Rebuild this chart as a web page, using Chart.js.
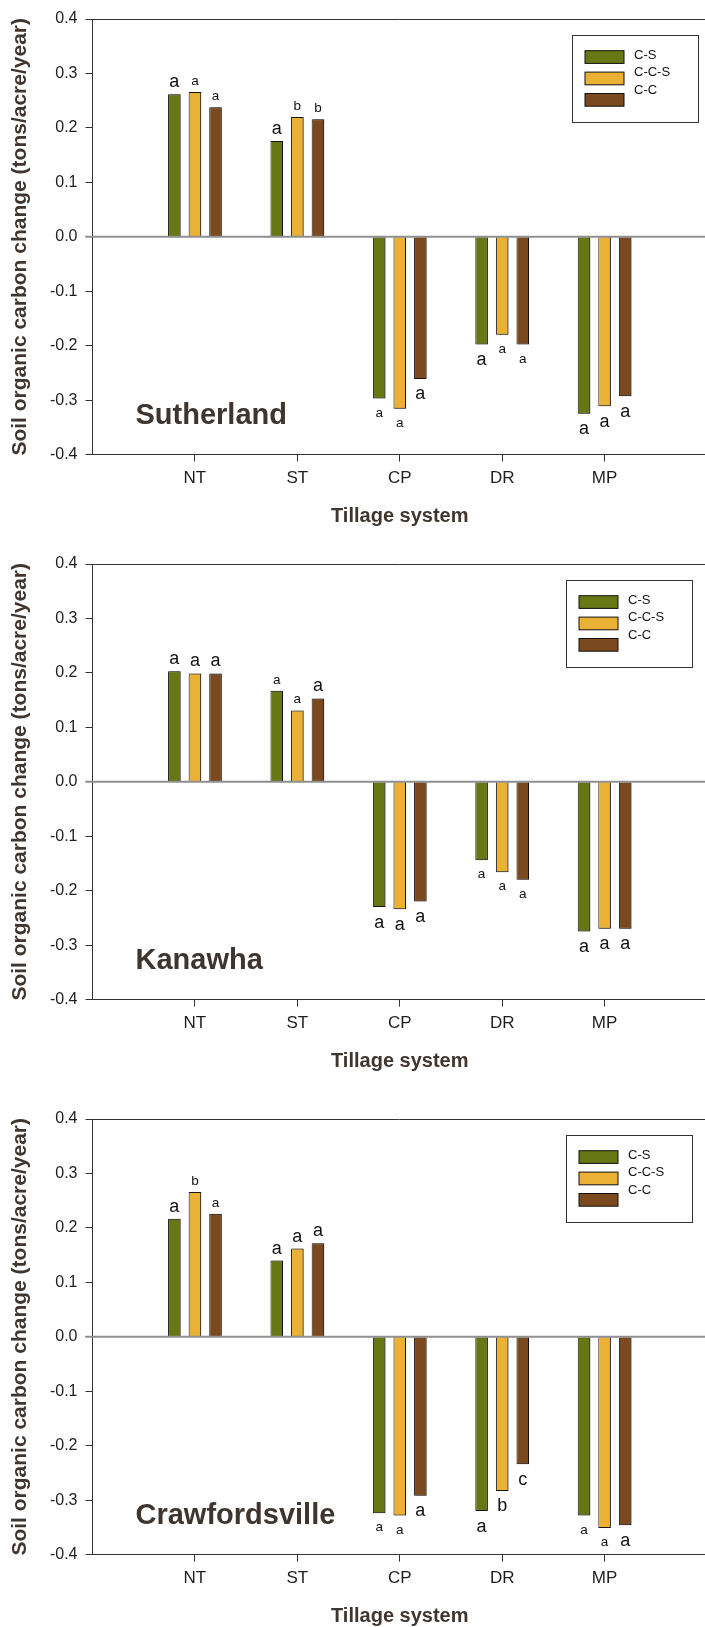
<!DOCTYPE html>
<html>
<head>
<meta charset="utf-8">
<title>Soil organic carbon change by tillage system</title>
<script src="https://cdn.jsdelivr.net/npm/chart.js@4"></script>
<style>
  html, body { margin: 0; padding: 0; background: #fff; overflow: hidden; }
  .panel { position: absolute; left: 0; }
</style>
</head>
<body>
<canvas id="sutherland" class="panel" width="714" height="532" style="top:0px"></canvas>
<canvas id="kanawha" class="panel" width="714" height="532" style="top:545px"></canvas>
<canvas id="crawfordsville" class="panel" width="714" height="532" style="top:1100px"></canvas>
<script>
// categories (empty slots at both ends keep the axis running past NT and MP)
var tillage = ['', 'NT', 'ST', 'CP', 'DR', 'MP', ''];
var rotations = ['C-S', 'C-C-S', 'C-C'];
var yTickValues = [-0.4, -0.3, -0.2, -0.1, 0, 0.1, 0.2, 0.3, 0.4];

// Sutherland
var sutherlandCS = [0.262, 0.176, -0.297, -0.198, -0.325];
var sutherlandCCS = [0.266, 0.220, -0.316, -0.180, -0.311];
var sutherlandCC = [0.238, 0.216, -0.261, -0.198, -0.293];
var sutherlandLettersCS = ['a', 'a', 'a', 'a', 'a'];
var sutherlandLettersCCS = ['a', 'b', 'a', 'a', 'a'];
var sutherlandLettersCC = ['a', 'b', 'a', 'a', 'a'];

// Kanawha
var kanawhaCS = [0.203, 0.167, -0.230, -0.144, -0.275];
var kanawhaCCS = [0.199, 0.131, -0.234, -0.166, -0.270];
var kanawhaCC = [0.199, 0.153, -0.220, -0.180, -0.270];
var kanawhaLettersCS = ['a', 'a', 'a', 'a', 'a'];
var kanawhaLettersCCS = ['a', 'a', 'a', 'a', 'a'];
var kanawhaLettersCC = ['a', 'a', 'a', 'a', 'a'];

// Crawfordsville
var crawfordsvilleCS = [0.217, 0.140, -0.324, -0.320, -0.328];
var crawfordsvilleCCS = [0.266, 0.162, -0.328, -0.283, -0.351];
var crawfordsvilleCC = [0.226, 0.172, -0.292, -0.234, -0.346];
var crawfordsvilleLettersCS = ['a', 'a', 'a', 'a', 'a'];
var crawfordsvilleLettersCCS = ['b', 'a', 'a', 'b', 'a'];
var crawfordsvilleLettersCC = ['a', 'a', 'a', 'c', 'a'];

// letter sizes as in the original figure (L = large, S = small)
var sutherlandLetterSize = [['L', 'L', 'S', 'L', 'L'], ['S', 'S', 'S', 'S', 'L'], ['S', 'S', 'L', 'S', 'L']];
var kanawhaLetterSize = [['L', 'S', 'L', 'S', 'L'], ['L', 'S', 'L', 'S', 'L'], ['L', 'L', 'L', 'S', 'L']];
var crawfordsvilleLetterSize = [['L', 'L', 'S', 'L', 'S'], ['S', 'L', 'S', 'L', 'S'], ['S', 'L', 'L', 'L', 'L']];

var barColors = ['#667713', '#ebb134', '#7a4a1e'];
var textColor = '#40352f';

Chart.defaults.font.family = '"Liberation Sans", Arial, sans-serif';
Chart.defaults.color = '#1e1e1e';

function padEnds(values) {
    return [null].concat(values, [null]);
}

var decorations = {
    id: 'decorations',
    beforeDatasetsDraw: function (chart) {
        var ctx = chart.ctx;
        ctx.save();
        ctx.shadowColor = 'rgba(0, 0, 0, 0.35)';
        ctx.shadowOffsetX = 2;
        ctx.shadowOffsetY = 0;
        ctx.shadowBlur = 0;
    },
    afterDatasetsDraw: function (chart, args, opts) {
        var ctx = chart.ctx;
        ctx.restore();
        var area = chart.chartArea;
        var zeroY = chart.scales.y.getPixelForValue(0);

        ctx.save();
        // top frame line
        ctx.strokeStyle = '#333';
        ctx.lineWidth = 1;
        ctx.beginPath();
        ctx.moveTo(area.left, Math.round(area.top) + 0.5);
        ctx.lineTo(area.right, Math.round(area.top) + 0.5);
        ctx.stroke();

        // zero line
        ctx.strokeStyle = '#8f8f8f';
        ctx.lineWidth = 2;
        ctx.beginPath();
        ctx.moveTo(area.left - 7, zeroY);
        ctx.lineTo(area.right, zeroY);
        ctx.stroke();

        // significance letters
        ctx.fillStyle = '#111';
        ctx.textAlign = 'center';
        ctx.textBaseline = 'alphabetic';
        chart.data.datasets.forEach(function (ds, i) {
            var meta = chart.getDatasetMeta(i);
            for (var j = 1; j < tillage.length - 1; j++) {
                var el = meta.data[j];
                var v = ds.data[j];
                var size = opts.sizes[i][j - 1] === 'L' ? 18 : 13.5;
                ctx.font = size + 'px "Liberation Sans", Arial, sans-serif';
                var y = v >= 0 ? el.y - 7 : el.y + 11 + size * 0.53;
                ctx.fillText(opts.letters[i][j - 1], el.x, y);
            }
        });

        // site name
        ctx.fillStyle = '#3f3530';
        ctx.textAlign = 'left';
        ctx.font = 'bold 29px "Liberation Sans", Arial, sans-serif';
        ctx.fillText(opts.site, area.left + 43, area.top + 404.5);

        // legend box
        var lx = opts.legendLeft;
        var ly = area.top + 16;
        ctx.fillStyle = '#fff';
        ctx.fillRect(lx, ly, 126, 87);
        ctx.strokeStyle = '#333';
        ctx.lineWidth = 1;
        ctx.strokeRect(lx + 0.5, ly + 0.5, 126, 87);
        ctx.font = '13px "Liberation Sans", Arial, sans-serif';
        ctx.textBaseline = 'middle';
        chart.data.datasets.forEach(function (ds, i) {
            var sy = ly + 15.7 + i * 21.4;
            ctx.fillStyle = ds.backgroundColor;
            ctx.fillRect(lx + 13, sy, 39, 12.7);
            ctx.strokeStyle = '#111';
            ctx.strokeRect(lx + 13, sy, 39, 12.7);
            ctx.fillStyle = '#111';
            ctx.fillText(ds.label, lx + 62, ly + 20 + i * 17.6);
        });
        ctx.restore();
    }
};

function makeChart(canvasId, site, series, letters, sizes, legendLeft) {
    var ctx = document.getElementById(canvasId).getContext('2d');
    return new Chart(ctx, {
        type: 'bar',
        data: {
            labels: tillage,
            datasets: rotations.map(function (name, i) {
                return {
                    label: name,
                    data: padEnds(series[i]),
                    backgroundColor: barColors[i],
                    borderColor: '#141414',
                    borderWidth: 1,
                    categoryPercentage: 0.603,
                    barPercentage: 0.61
                };
            })
        },
        options: {
            responsive: false,
            animation: false,
            layout: { padding: { top: 19, left: 0, right: 0, bottom: 0 } },
            plugins: {
                legend: { display: false },
                tooltip: { enabled: false },
                decorations: { site: site, letters: letters, sizes: sizes, legendLeft: legendLeft }
            },
            scales: {
                x: {
                    type: 'category',
                    offset: false,
                    grid: {
                        offset: false,
                        drawOnChartArea: false,
                        tickLength: 7,
                        color: function (c) {
                            return (c.index === 0 || c.index === tillage.length - 1) ? 'rgba(0,0,0,0)' : '#333';
                        }
                    },
                    border: { display: true, color: '#333', width: 1 },
                    ticks: { padding: 7, maxRotation: 0, autoSkip: false, font: { size: 17 } },
                    title: {
                        display: true,
                        text: 'Tillage system',
                        color: textColor,
                        font: { size: 20, weight: 'bold' },
                        padding: { top: 0, bottom: 3.4 }
                    },
                    afterFit: function (scale) { scale.height = 77.4; }
                },
                y: {
                    min: -0.4,
                    max: 0.4,
                    afterBuildTicks: function (scale) {
                        scale.ticks = yTickValues.map(function (v) { return { value: v }; });
                    },
                    grid: { drawOnChartArea: false, tickLength: 7, color: '#333' },
                    border: { display: true, color: '#333', width: 1 },
                    ticks: {
                        padding: 8,
                        font: { size: 16 },
                        callback: function (v) { return v.toFixed(1); }
                    },
                    title: {
                        display: true,
                        text: 'Soil organic carbon change (tons/acre/year)',
                        color: textColor,
                        font: { size: 21, weight: 'bold' },
                        padding: { top: 8, bottom: 0 }
                    },
                    afterFit: function (scale) { scale.width = 92.5; }
                }
            }
        },
        plugins: [decorations]
    });
}

makeChart('sutherland', 'Sutherland',
    [sutherlandCS, sutherlandCCS, sutherlandCC],
    [sutherlandLettersCS, sutherlandLettersCCS, sutherlandLettersCC],
    sutherlandLetterSize, 572);

makeChart('kanawha', 'Kanawha',
    [kanawhaCS, kanawhaCCS, kanawhaCC],
    [kanawhaLettersCS, kanawhaLettersCCS, kanawhaLettersCC],
    kanawhaLetterSize, 566);

makeChart('crawfordsville', 'Crawfordsville',
    [crawfordsvilleCS, crawfordsvilleCCS, crawfordsvilleCC],
    [crawfordsvilleLettersCS, crawfordsvilleLettersCCS, crawfordsvilleLettersCC],
    crawfordsvilleLetterSize, 566);
</script>
</body>
</html>
